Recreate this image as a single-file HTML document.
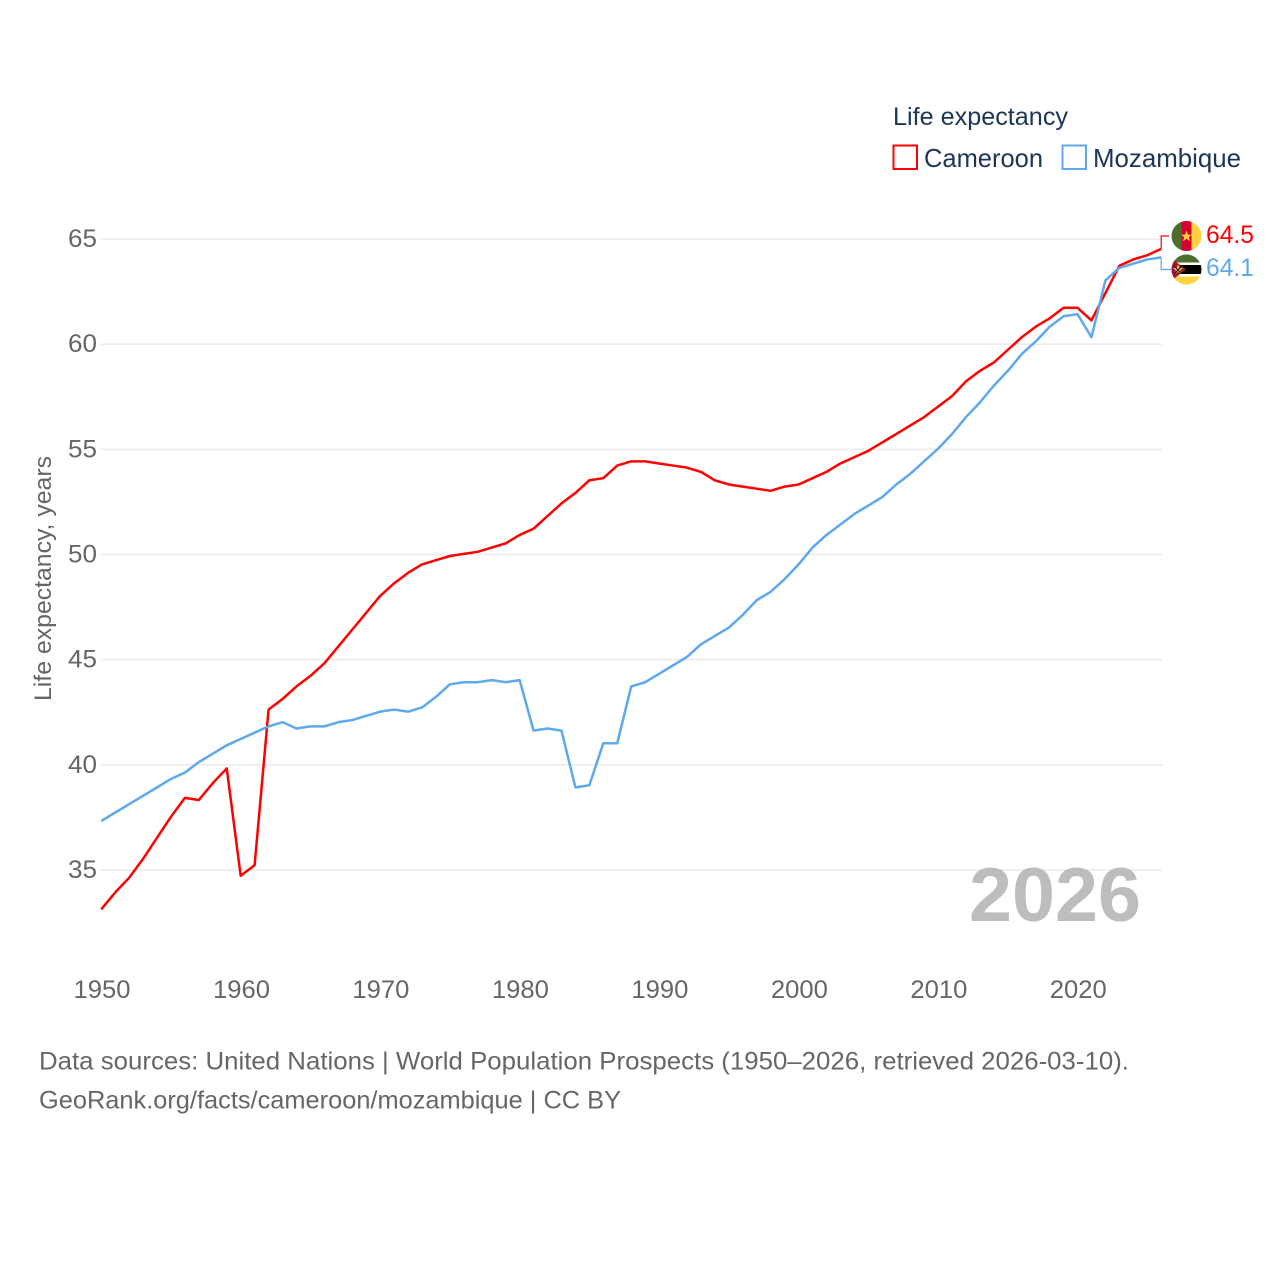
<!DOCTYPE html>
<html lang="en">
<head>
<meta charset="utf-8">
<title>Life expectancy: Cameroon and Mozambique</title>
<style>
html,body{margin:0;padding:0;background:#fff;}
svg{display:block;font-family:"Liberation Sans",sans-serif;}
</style>
</head>
<body>
<svg id="chart" xmlns="http://www.w3.org/2000/svg" width="1280" height="1280" viewBox="0 0 1280 1280">
  <rect width="1280" height="1280" fill="#fff"/>
  <g id="grid"></g>
  <g id="yticks"></g>
  <g id="xticks"></g>
  <text transform="translate(51,701) rotate(-90)" font-size="24" fill="#666" textLength="245" lengthAdjust="spacingAndGlyphs">Life expectancy, years</text>
  <text x="969" y="921" font-size="76" font-weight="700" fill="#bdbdbd" textLength="172" lengthAdjust="spacingAndGlyphs">2026</text>
  <g id="series" transform="translate(-0.8,-0.6)"></g>
  <g id="endlabels"></g>

  <defs>
    <clipPath id="clip-cm"><circle cx="1186.5" cy="236" r="15"/></clipPath>
    <clipPath id="clip-mz"><circle cx="1186.5" cy="269.5" r="15"/></clipPath>
  </defs>
  <g clip-path="url(#clip-cm)">
    <rect x="1171" y="221" width="10.5" height="30" fill="#4b6e2e"/>
    <rect x="1181.5" y="221" width="10" height="30" fill="#d5002f"/>
    <rect x="1191.5" y="221" width="10.5" height="30" fill="#fdd23e"/>
    <polygon points="1186.5,230.5 1188,234.6 1192,234.6 1188.8,237.1 1190,241.2 1186.5,238.7 1183,241.2 1184.2,237.1 1181,234.6 1185,234.6" fill="#fdd23e"/>
  </g>
  <g clip-path="url(#clip-mz)">
    <rect x="1171" y="254" width="31" height="8.5" fill="#4b6e2e"/>
    <rect x="1171" y="262.5" width="31" height="14" fill="#fff"/>
    <rect x="1171" y="265" width="31" height="9" fill="#000"/>
    <rect x="1171" y="276.5" width="31" height="9" fill="#fdd23e"/>
    <polygon points="1171,258 1186,269.5 1171,281" fill="#a5122f"/>
    <polygon points="1178,264.5 1179.4,268 1183,268 1180.2,270.3 1181.2,274 1178,271.8 1174.8,274 1175.8,270.3 1173,268 1176.6,268" fill="#fdd23e"/>
    <path d="M1174.5 266.5l7 7M1181.5 266.5l-7 7" stroke="#111" stroke-width="1.2" fill="none"/>
  </g>

  <g>
    <text x="893" y="125" font-size="25" fill="#1d3557" textLength="175" lengthAdjust="spacingAndGlyphs">Life expectancy</text>
    <g>
      <rect x="893.5" y="145.5" width="23.5" height="23.5" fill="#fff" stroke="#ff0000" stroke-width="2"/>
      <text x="924" y="167" font-size="26" fill="#1d3557" textLength="119" lengthAdjust="spacingAndGlyphs">Cameroon</text>
    </g>
    <g>
      <rect x="1062.5" y="145.5" width="23.5" height="23.5" fill="#fff" stroke="#5ea8ee" stroke-width="2"/>
      <text x="1093" y="167" font-size="26" fill="#1d3557" textLength="148" lengthAdjust="spacingAndGlyphs">Mozambique</text>
    </g>
  </g>

  <text x="39" y="1069.5" font-size="25" fill="#666" textLength="1090" lengthAdjust="spacingAndGlyphs">Data sources: United Nations | World Population Prospects (1950–2026, retrieved 2026-03-10).</text>
  <a><text x="39" y="1108.5" font-size="25" fill="#666" textLength="582" lengthAdjust="spacingAndGlyphs">GeoRank.org/facts/cameroon/mozambique | CC BY</text></a>
</svg>
<script>
const startYear = 1950;
const xTickLabels = [1950, 1960, 1970, 1980, 1990, 2000, 2010, 2020];
const yTickLabels = [35, 40, 45, 50, 55, 60, 65];
const cameroonValues = [33.1,33.9,34.6,35.5,36.5,37.5,38.4,38.3,39.1,39.8,34.7,35.2,42.6,43.1,43.7,44.2,44.8,45.6,46.4,47.2,48.0,48.6,49.1,49.5,49.7,49.9,50.0,50.1,50.3,50.5,50.9,51.2,51.8,52.4,52.9,53.5,53.6,54.2,54.4,54.4,54.3,54.2,54.1,53.9,53.5,53.3,53.2,53.1,53.0,53.2,53.3,53.6,53.9,54.3,54.6,54.9,55.3,55.7,56.1,56.5,57.0,57.5,58.2,58.7,59.1,59.7,60.3,60.8,61.2,61.7,61.7,61.1,62.4,63.7,64.0,64.2,64.5];
const mozambiqueValues = [37.3,37.7,38.1,38.5,38.9,39.3,39.6,40.1,40.5,40.9,41.2,41.5,41.8,42.0,41.7,41.8,41.8,42.0,42.1,42.3,42.5,42.6,42.5,42.7,43.2,43.8,43.9,43.9,44.0,43.9,44.0,41.6,41.7,41.6,38.9,39.0,41.0,41.0,43.7,43.9,44.3,44.7,45.1,45.7,46.1,46.5,47.1,47.8,48.2,48.8,49.5,50.3,50.9,51.4,51.9,52.3,52.7,53.3,53.8,54.4,55.0,55.7,56.5,57.2,58.0,58.7,59.5,60.1,60.8,61.3,61.4,60.3,63.0,63.6,63.8,64.0,64.1];

const NS = 'http://www.w3.org/2000/svg';
const xScale = function (year) { return 102 + (year - 1950) * (1060 / 76); };
const yScale = function (value) { return 870 - (value - 35) * (631 / 30); };

function make(tag, parent, attrs, text) {
  const el = document.createElementNS(NS, tag);
  Object.keys(attrs).forEach(function (k) { el.setAttribute(k, attrs[k]); });
  if (text !== undefined) el.textContent = text;
  parent.appendChild(el);
  return el;
}

const grid = document.getElementById('grid');
const yticks = document.getElementById('yticks');
const xticks = document.getElementById('xticks');
const series = document.getElementById('series');
const endlabels = document.getElementById('endlabels');

yTickLabels.forEach(function (v) {
  const line = make('line', grid, { x1: 101, x2: 1162, y1: yScale(v), y2: yScale(v), stroke: '#ececec', 'stroke-width': 1.6 });
  
  
  const label = make('text', yticks, { x: 97, y: yScale(v) + 8, 'font-size': 25, fill: '#666', 'text-anchor': 'end', textLength: 29, lengthAdjust: 'spacingAndGlyphs' }, String(v));
  
  
});

xTickLabels.forEach(function (y) {
  const label = make('text', xticks, { x: xScale(y) - 28.5, y: 998, 'font-size': 25, fill: '#666', textLength: 57, lengthAdjust: 'spacingAndGlyphs' }, String(y));
  
  
});

function pointsFor(values) {
  return values.map(function (v, i) {
    return xScale(startYear + i).toFixed(2) + ',' + yScale(v).toFixed(2);
  }).join(' ');
}

const lineCameroon = make('polyline', series, { points: pointsFor(cameroonValues), fill: 'none', stroke: '#ff0000', 'stroke-width': 2.5, 'stroke-linejoin': 'round' });



const lineMozambique = make('polyline', series, { points: pointsFor(mozambiqueValues), fill: 'none', stroke: '#5ea8ee', 'stroke-width': 2.5, 'stroke-linejoin': 'round' });



const lastCameroon = cameroonValues[cameroonValues.length - 1];
const lastMozambique = mozambiqueValues[mozambiqueValues.length - 1];
const endX = xScale(startYear + cameroonValues.length - 1);

const connectorCameroon = make('polyline', series, { points: endX + ',' + yScale(lastCameroon) + ' ' + endX + ',236.6 1169.8,236.6', fill: 'none', stroke: '#ff0000', 'stroke-width': 1.2 });



const connectorMozambique = make('polyline', series, { points: endX + ',' + yScale(lastMozambique) + ' ' + endX + ',270.1 1171.8,270.1', fill: 'none', stroke: '#5ea8ee', 'stroke-width': 1.2 });



const valueCameroon = make('text', endlabels, { x: 1206, y: 243, 'font-size': 25, fill: '#ff0000', textLength: 48, lengthAdjust: 'spacingAndGlyphs' }, lastCameroon.toFixed(1));



const valueMozambique = make('text', endlabels, { x: 1206, y: 276, 'font-size': 25, fill: '#5ea8ee', textLength: 48, lengthAdjust: 'spacingAndGlyphs' }, lastMozambique.toFixed(1));


</script>
</body>
</html>
